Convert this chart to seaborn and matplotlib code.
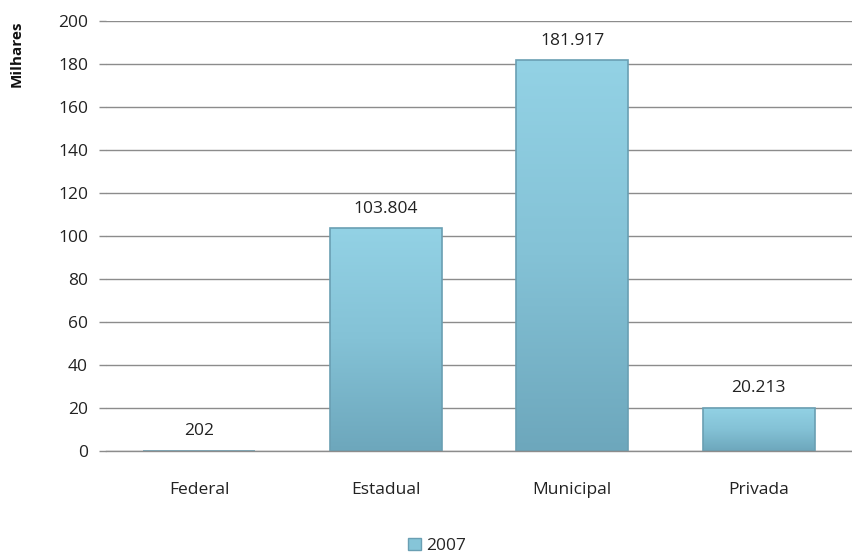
import matplotlib
matplotlib.use("Agg")
import matplotlib.pyplot as plt
import seaborn as sns
import numpy as np
import pandas as pd
from matplotlib.colors import LinearSegmentedColormap
from matplotlib.patches import Patch

categories = ["Federal", "Estadual", "Municipal", "Privada"]
values = [0.202, 103.804, 181.917, 20.213]
value_labels = ["202", "103.804", "181.917", "20.213"]
series_name = "2007"
y_ticks = [0, 20, 40, 60, 80, 100, 120, 140, 160, 180, 200]

sns.set_theme(style="white")
plt.rcParams['font.family'] = ['Open Sans', 'DejaVu Sans']

df = pd.DataFrame({"cat": categories, "val": values})

fig = plt.figure(figsize=(8.53, 5.56), dpi=100)
ax = fig.add_axes([106/853, 1-451/556, 746/853, 430/556])

sns.barplot(data=df, x="cat", y="val", ax=ax, color="#86C5D8", width=0.6,
            edgecolor="#6A9FB3", linewidth=1.2, saturation=1)

ax.set_ylim(0, 200)
ax.set_yticks(y_ticks)
ax.set_yticklabels([str(t) for t in y_ticks], fontsize=12.5, color="#222222")
ax.tick_params(axis="x", labelsize=12.5, colors="#222222", length=0, pad=22)
ax.tick_params(axis="y", length=5, width=1, color="#8C8C8C", left=True, pad=8)
ax.set_xlabel("")
ax.set_ylabel("")
ax.yaxis.grid(True, color="#8C8C8C", linewidth=1)
ax.set_axisbelow(True)
for s in ["top", "right", "left"]:
    ax.spines[s].set_visible(False)
ax.spines["bottom"].set_color("#8C8C8C")
ax.spines["bottom"].set_linewidth(1)

# gradient shading on bars (drawn beneath transparent bar outlines)
cmap = LinearSegmentedColormap.from_list("bev", ["#6DA7BC", "#84C2D6", "#93D2E5"])
grad = np.linspace(0, 1, 256).reshape(-1, 1)
for patch in ax.patches:
    x0, y0 = patch.get_x(), patch.get_y()
    w, h = patch.get_width(), patch.get_height()
    if h <= 1:
        continue
    im = ax.imshow(grad, extent=[x0, x0 + w, y0, y0 + h], origin="lower",
                   cmap=cmap, aspect="auto", zorder=patch.get_zorder() - 0.05)
    im.set_clip_path(patch)
    patch.set_facecolor("none")
ax.set_xlim(-0.5, len(categories) - 0.5)
ax.set_ylim(0, 200)

for i, (v, lab) in enumerate(zip(values, value_labels)):
    ax.annotate(lab, (i, v), xytext=(0, 8), textcoords="offset points",
                ha="center", va="bottom", fontsize=12.5, color="#222222")

fig.text(17/853, 1-54/556, "Milhares", rotation=90, ha="center", va="center",
         fontsize=11, fontweight="bold", color="#111111")

handles = [Patch(facecolor="#86C5D8", edgecolor="#6A9FB3", label=series_name)]
fig.legend(handles=handles, loc="center", bbox_to_anchor=(437/853, 1-546/556),
           frameon=False, fontsize=12.5, handlelength=0.7, handleheight=0.7,
           handletextpad=0.3)

fig.savefig("out.png", dpi=100)
